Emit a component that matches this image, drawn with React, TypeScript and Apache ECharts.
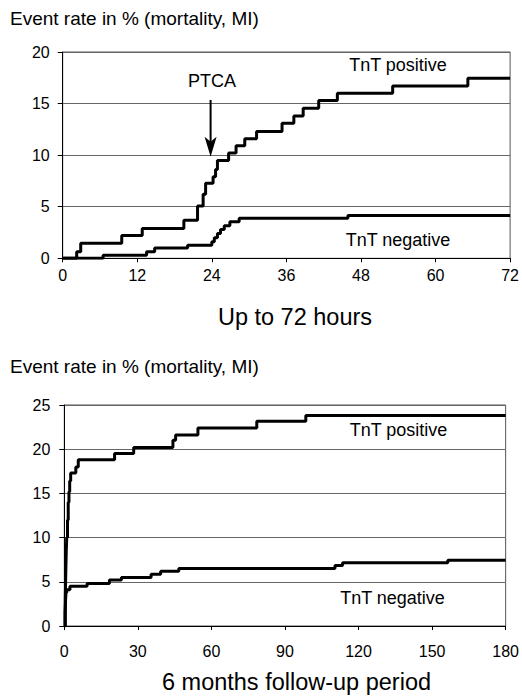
import React, { useEffect, useRef } from "react";
import * as echarts from "echarts";

// ---- Data ----
const hourTicks = [0, 12, 24, 36, 48, 60, 72];
const dayTicks = [0, 30, 60, 90, 120, 150, 180];

// Up to 72 hours: [hour, event rate %]
const posHours: [number, number][] = [
  [0, 0], [2.25, 0.64], [2.9, 1.45], [9.5, 2.2], [12.8, 2.9], [19.5, 3.7],
  [21.7, 5.07], [22.6, 6.2], [23.0, 7.27], [24.2, 7.9], [24.6, 8.6], [24.9, 9.47],
  [26.7, 10.2], [27.9, 10.9], [29.3, 11.6], [31.2, 12.3], [35.3, 13.1],
  [37.2, 13.8], [38.7, 14.55], [41.2, 15.3], [44.2, 16.0], [53.1, 16.7],
  [65.2, 17.45], [72, 17.45],
];
const negHours: [number, number][] = [
  [0, 0], [6.5, 0.3], [13.5, 0.64], [14.8, 1.0], [20.1, 1.27], [24.0, 1.6],
  [24.4, 2.0], [24.9, 2.4], [25.4, 2.8], [26.0, 3.15], [26.9, 3.55],
  [28.4, 3.88], [45.9, 4.15], [72, 4.15],
];

// 6 months: [day, event rate %]
const posDays: [number, number][] = [
  [0, 0], [0.4, 3], [0.6, 6], [0.8, 8.5], [1.0, 10], [1.3, 12], [1.6, 14],
  [1.9, 15.2], [2.2, 16.4], [2.6, 17.3], [4.7, 18.0], [5.7, 18.8],
  [20.5, 19.5], [28.3, 20.2], [44.3, 21.0], [45.4, 21.6], [54.5, 22.4],
  [78.5, 23.15], [98.5, 23.8], [180, 23.8],
];
const negDays: [number, number][] = [
  [0, 0], [0.3, 1.5], [0.5, 2.8], [0.7, 3.8], [1.0, 4.1], [2.3, 4.5],
  [9.3, 4.8], [18.4, 5.2], [23.3, 5.5], [35.4, 5.85], [39.3, 6.2],
  [46.7, 6.5], [110.4, 6.85], [113.5, 7.15], [156.4, 7.45], [180, 7.45],
];

// PTCA arrow: [hour, top value, tip value]
const ptcaArrow: [number, number, number][] = [[23.8, 15.35, 9.85]];

const FONT = '"Liberation Sans", Arial, Helvetica, sans-serif';

export default function App() {
  const ref = useRef<HTMLDivElement>(null);

  useEffect(() => {
    if (!ref.current) return;
    document.body.style.margin = "0";
    const chart = echarts.init(ref.current, undefined, { renderer: "svg" });

    const axisLabel = (margin: number) => ({
      color: "#000",
      fontFamily: FONT,
      fontSize: 16,
      margin,
    });
    const gridLine = { show: true, lineStyle: { color: "#666", width: 1 } };
    const axisLine = { show: true, lineStyle: { color: "#000", width: 1 } };

    const stepLine = (data: [number, number][], xi: number, name: string) => ({
      type: "line",
      name,
      xAxisIndex: xi,
      yAxisIndex: xi,
      step: "end",
      data,
      showSymbol: false,
      symbol: "none",
      lineStyle: { color: "#000", width: 3 },
      z: 5,
      silent: true,
    });

    const text = (
      t: string,
      x: number,
      y: number,
      size: number,
      align: string = "center"
    ) => ({
      type: "text",
      x,
      y,
      style: {
        text: t,
        fontFamily: FONT,
        fontSize: size,
        fill: "#000",
        align,
        verticalAlign: "middle",
      },
      z: 10,
    });

    chart.setOption({
      animation: false,
      backgroundColor: "#fff",
      grid: [
        {
          left: 62.7,
          right: 11.3,
          top: 52,
          bottom: 440.7,
          show: true,
          borderColor: "#555",
          borderWidth: 1,
        },
        {
          left: 64.3,
          right: 12,
          top: 405,
          bottom: 73,
          show: true,
          borderColor: "#555",
          borderWidth: 1,
        },
      ],
      xAxis: [
        {
          gridIndex: 0,
          type: "value",
          min: hourTicks[0],
          max: hourTicks[hourTicks.length - 1],
          interval: 12,
          axisLine,
          axisTick: { show: true, length: 4, lineStyle: { color: "#000" } },
          axisLabel: axisLabel(9),
          splitLine: { show: false },
        },
        {
          gridIndex: 1,
          type: "value",
          min: dayTicks[0],
          max: dayTicks[dayTicks.length - 1],
          interval: 30,
          axisLine,
          axisTick: { show: true, length: 4, lineStyle: { color: "#000" } },
          axisLabel: axisLabel(17),
          splitLine: { show: false },
        },
      ],
      yAxis: [
        {
          gridIndex: 0,
          type: "value",
          min: 0,
          max: 20,
          interval: 5,
          axisLine,
          axisTick: { show: true, length: 5, lineStyle: { color: "#000" } },
          axisLabel: axisLabel(13),
          splitLine: gridLine,
        },
        {
          gridIndex: 1,
          type: "value",
          min: 0,
          max: 25,
          interval: 5,
          axisLine,
          axisTick: { show: true, length: 5, lineStyle: { color: "#000" } },
          axisLabel: axisLabel(14),
          splitLine: gridLine,
        },
      ],
      series: [
        stepLine(posHours, 0, "TnT positive 72h"),
        stepLine(negHours, 0, "TnT negative 72h"),
        stepLine(posDays, 1, "TnT positive 6m"),
        stepLine(negDays, 1, "TnT negative 6m"),
        {
          type: "custom",
          xAxisIndex: 0,
          yAxisIndex: 0,
          data: ptcaArrow,
          clip: false,
          silent: true,
          z: 6,
          renderItem: (_params: any, api: any) => {
            const top = api.coord([api.value(0), api.value(1)]);
            const tip = api.coord([api.value(0), api.value(2)]);
            const x = tip[0];
            const y = tip[1];
            return {
              type: "group",
              children: [
                {
                  type: "line",
                  shape: { x1: x, y1: top[1], x2: x, y2: y - 14 },
                  style: { stroke: "#000", lineWidth: 2 },
                },
                {
                  type: "polygon",
                  shape: {
                    points: [
                      [x - 6, y - 20],
                      [x, y - 15],
                      [x + 6, y - 20],
                      [x, y],
                    ],
                  },
                  style: { fill: "#000" },
                },
              ],
            };
          },
        },
      ],
      graphic: [
        text("Event rate in % (mortality, MI)", 10, 18, 19, "left"),
        text("PTCA", 212, 81, 18),
        text("TnT positive", 398, 65, 18),
        text("TnT negative", 398, 240, 18),
        text("Up to 72 hours", 295, 317, 23.5),
        text("Event rate in % (mortality, MI)", 10, 366, 19, "left"),
        text("TnT positive", 398.5, 430, 18),
        text("TnT negative", 392.5, 598, 18),
        text("6 months follow-up period", 296.5, 682, 23.5),
      ],
    });

    return () => chart.dispose();
  }, []);

  return (
    <div
      ref={ref}
      style={{ position: "fixed", left: 0, top: 0, width: 522, height: 699 }}
    />
  );
}
